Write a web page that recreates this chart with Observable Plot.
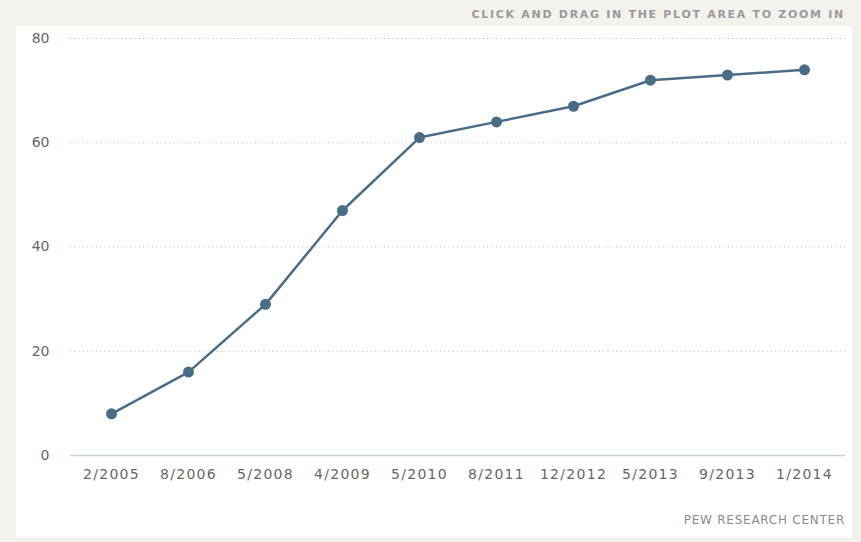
<!DOCTYPE html>
<html>
<head>
<meta charset="utf-8">
<script src="https://cdn.jsdelivr.net/npm/d3@7"></script>
<script src="https://cdn.jsdelivr.net/npm/@observablehq/plot@0.6"></script>
<style>
  html, body { margin: 0; padding: 0; }
  body { width: 861px; height: 542px; background: #f3f2ed; position: relative; overflow: hidden; font-family: "DejaVu Sans", sans-serif; }
  #panel { position: absolute; left: 16px; top: 26px; width: 836px; height: 511px; background: #fff; }
  #title { position: absolute; right: 16px; top: 8px; font-size: 11px; letter-spacing: 1.7px; color: #9a9a9a; font-weight: 600; white-space: nowrap; }
  #chart { position: absolute; left: 0; top: 0; }
  #chart g[aria-label="x-axis tick label"] text { letter-spacing: 1.3px; }
  #footer { position: absolute; right: 16px; top: 513px; font-size: 12px; letter-spacing: 0.75px; color: #8a8a8a; white-space: nowrap; }
</style>
</head>
<body>
<div id="panel"></div>
<div id="title">CLICK AND DRAG IN THE PLOT AREA TO ZOOM IN</div>
<div id="chart"></div>
<div id="footer">PEW RESEARCH CENTER</div>
<script>
const dates = ["2/2005", "8/2006", "5/2008", "4/2009", "5/2010", "8/2011", "12/2012", "5/2013", "9/2013", "1/2014"];
const values = [8, 16, 29, 47, 61, 64, 67, 72, 73, 74];
const yTicks = [0, 20, 40, 60, 80];

const data = dates.map((d, i) => ({date: d, value: values[i]}));
const lineColor = "#4a6d87";

const chart = Plot.plot({
  width: 861,
  height: 500,
  marginLeft: 70,
  marginRight: 16,
  marginTop: 38,
  marginBottom: 45,
  style: {background: "transparent", fontFamily: "DejaVu Sans, sans-serif", fontSize: "14px", color: "#666"},
  x: {type: "point", domain: dates, padding: 0.5, label: null},
  y: {domain: [0, 80], label: null},
  marks: [
    Plot.gridY(yTicks.filter(t => t > 0), {stroke: "#b5b5b5", strokeOpacity: 1, strokeDasharray: "1,3.3", strokeWidth: 1}),
    Plot.ruleY([0], {stroke: "#c5d3e0", strokeWidth: 1.5}),
    Plot.axisY({ticks: yTicks, tickSize: 0, tickPadding: 21, label: null, fill: "#666"}),
    Plot.axisX({tickSize: 0, tickPadding: 14, label: null, fill: "#666"}),
    Plot.line(data, {x: "date", y: "value", stroke: lineColor, strokeWidth: 2.5}),
    Plot.dot(data, {x: "date", y: "value", r: 5.5, fill: lineColor, stroke: "none"})
  ]
});
document.getElementById("chart").appendChild(chart);
</script>
</body>
</html>
